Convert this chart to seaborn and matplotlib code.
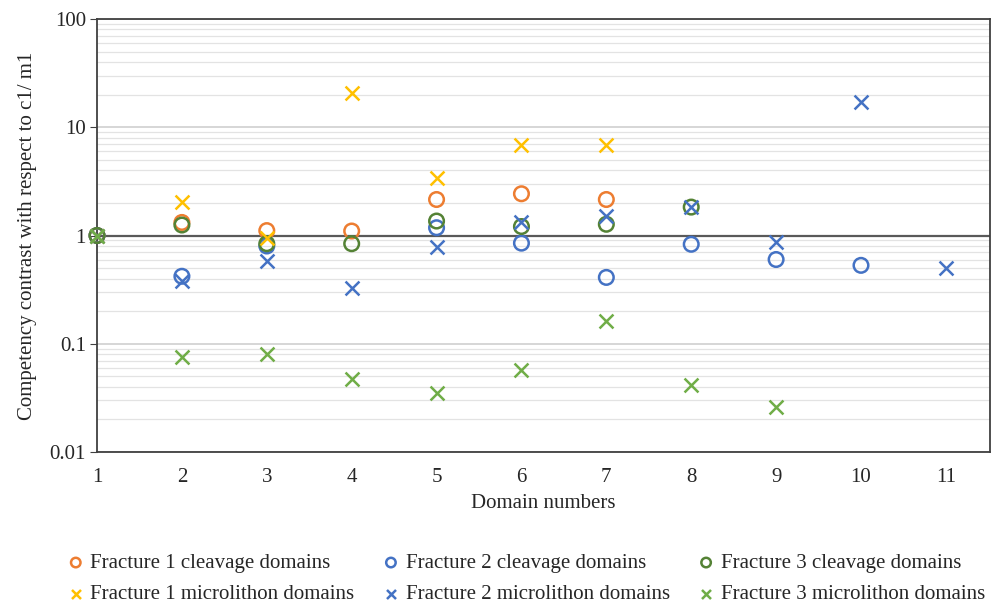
import matplotlib

matplotlib.use("Agg")

import matplotlib.pyplot as plt
import numpy as np
import pandas as pd
import seaborn as sns
from matplotlib.ticker import FixedLocator, LogLocator, NullFormatter

nan = np.nan

domains = [1, 2, 3, 4, 5, 6, 7, 8, 9, 10, 11]

f1_cleavage = [1.0, 1.32, 1.11, 1.10, 2.15, 2.43, 2.15, nan, nan, nan, nan]
f2_cleavage = [1.0, 0.42, 0.80, nan, 1.18, 0.85, 0.41, 0.83, 0.60, 0.53, nan]
f3_cleavage = [1.0, 1.25, 0.84, 0.84, 1.36, 1.21, 1.27, 1.83, nan, nan, nan]
f1_microlithon = [1.0, 2.05, 0.94, 20.6, 3.4, 6.8, 6.8, nan, nan, nan, nan]
f2_microlithon = [1.0, 0.38, 0.58, 0.33, 0.79, 1.33, 1.52, 1.83, 0.88, 17.1, 0.50]
f3_microlithon = [1.0, 0.075, 0.081, 0.047, 0.035, 0.057, 0.163, 0.042, 0.026, nan, nan]

series = [
    ("Fracture 1 cleavage domains", f1_cleavage, "o", "#ED7D31"),
    ("Fracture 1 microlithon domains", f1_microlithon, "x", "#FFC000"),
    ("Fracture 2 cleavage domains", f2_cleavage, "o", "#4472C4"),
    ("Fracture 2 microlithon domains", f2_microlithon, "x", "#4472C4"),
    ("Fracture 3 cleavage domains", f3_cleavage, "o", "#548235"),
    ("Fracture 3 microlithon domains", f3_microlithon, "x", "#70AD47"),
]

sns.set_style("white")
plt.rcParams["font.family"] = ["Liberation Serif", "DejaVu Serif"]

fig = plt.figure(figsize=(9.95, 6.09), dpi=100)
ax = fig.add_axes([0.0975, 0.2578, 0.8975, 0.711])

# cleavage (circles) first, microlithon (crosses) on top
order = [0, 2, 4, 1, 3, 5]
for i in order:
    label, values, marker, color = series[i]
    frame = pd.DataFrame({"domain": domains, "value": values}).dropna()
    if marker == "o":
        sns.scatterplot(data=frame, x="domain", y="value", marker="o", s=110,
                        facecolor="none", edgecolor=color, linewidth=1.8,
                        ax=ax, label=label, zorder=3, clip_on=False)
    else:
        sns.scatterplot(data=frame, x="domain", y="value", marker="x", s=100,
                        color=color, linewidth=1.8, ax=ax, label=label,
                        zorder=3, clip_on=False)

ax.set_yscale("log")
ax.set_ylim(0.01, 100)
ax.set_xlim(1, 11.52)
ax.xaxis.set_major_locator(FixedLocator(domains))
ax.set_xticklabels([str(d) for d in domains])
ax.set_yticks([0.01, 0.1, 1, 10, 100])
ax.set_yticklabels(["0.01", "0.1", "1", "10", "100"])
ax.yaxis.set_minor_locator(LogLocator(base=10, subs=np.arange(2, 10)))
ax.yaxis.set_minor_formatter(NullFormatter())

ax.grid(which="major", axis="y", color="#d0d0d0", linewidth=1.2, zorder=0)
ax.grid(which="minor", axis="y", color="#e3e3e3", linewidth=0.9, zorder=0)
ax.set_axisbelow(True)
ax.axhline(1, color="#595959", linewidth=1.6, zorder=2)

for spine in ax.spines.values():
    spine.set_color("#404040")
    spine.set_linewidth(1.3)

ax.tick_params(axis="y", which="major", left=True, length=5, color="#404040",
               labelsize=15, pad=3)
ax.tick_params(axis="y", which="minor", left=False)
ax.tick_params(axis="x", bottom=False, labelsize=15, pad=8)

ax.set_xlabel("Domain numbers", fontsize=15, labelpad=5)
ax.set_ylabel("Competency contrast with respect to c1/ m1", fontsize=15,
              labelpad=9)

handles, labels = ax.get_legend_handles_labels()
lookup = dict(zip(labels, handles))
legend_order = [s[0] for s in series]
ax.legend([lookup[l] for l in legend_order], legend_order, ncol=3,
          loc="upper center", bbox_to_anchor=(0.48, -0.215), frameon=False,
          fontsize=15, handletextpad=0.25, columnspacing=1.3,
          labelspacing=0.55, handlelength=0.9, borderaxespad=0,
          markerscale=0.65)

fig.savefig("out.png", dpi=100)
